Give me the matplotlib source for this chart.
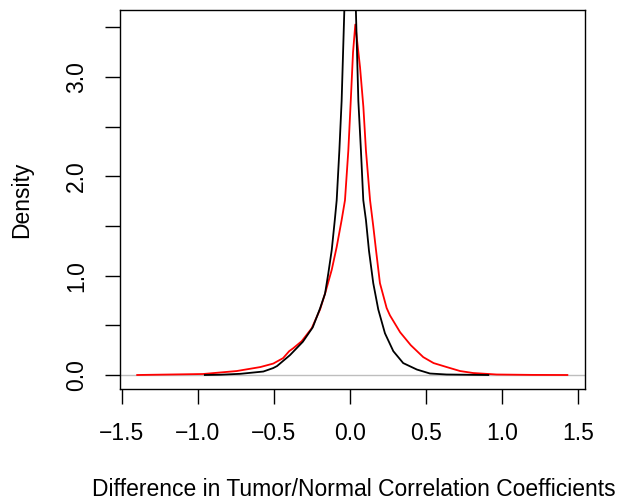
import matplotlib
matplotlib.use("Agg")
import matplotlib.pyplot as plt
import numpy as np

plt.rcParams['font.family'] = ['Liberation Sans', 'DejaVu Sans']

# density estimates
black_x = [-0.955, -0.85, -0.72, -0.57, -0.505, -0.48, -0.395, -0.31, -0.245, -0.197,
           -0.164, -0.143, -0.12, -0.10, -0.0875, -0.07, -0.055, -0.0375, 0.0,
           0.039, 0.055, 0.072, 0.0875, 0.105, 0.125, 0.153, 0.186, 0.23, 0.285,
           0.35, 0.44, 0.526, 0.636, 0.91]
black_y = [0.0, 0.003, 0.012, 0.035, 0.07, 0.09, 0.20, 0.335, 0.48, 0.67,
           0.82, 1.02, 1.26, 1.56, 1.76, 2.26, 2.76, 3.66, 5.6,
           3.66, 2.76, 2.26, 1.76, 1.56, 1.25, 0.925, 0.66, 0.42, 0.24,
           0.12, 0.055, 0.015, 0.005, 0.0]

red_x = [-1.40, -0.967, -0.745, -0.59, -0.505, -0.44, -0.40, -0.373, -0.318, -0.252,
         -0.197, -0.164, -0.12, -0.0875, -0.055, -0.033, -0.011, 0.005, 0.02, 0.035,
         0.066, 0.088, 0.105, 0.132, 0.153, 0.171, 0.197, 0.241, 0.263, 0.33,
         0.40, 0.482, 0.55, 0.636, 0.724, 0.81, 0.965, 1.20, 1.43]
red_y = [0.0, 0.01, 0.04, 0.08, 0.115, 0.17, 0.24, 0.27, 0.34, 0.47,
         0.66, 0.82, 1.06, 1.29, 1.56, 1.76, 2.26, 2.76, 3.25, 3.53,
         3.1, 2.7, 2.26, 1.76, 1.5, 1.26, 0.925, 0.675, 0.60, 0.43,
         0.30, 0.18, 0.12, 0.08, 0.04, 0.02, 0.005, 0.001, 0.0]

x_ticks = [-1.5, -1.0, -0.5, 0.0, 0.5, 1.0, 1.5]
x_labels = ['\u22121.5', '\u22121.0', '\u22120.5', '0.0', '0.5', '1.0', '1.5']
y_ticks = [0.0, 0.5, 1.0, 1.5, 2.0, 2.5, 3.0, 3.5]
y_labels = ['0.0', '', '1.0', '', '2.0', '', '3.0', '']

fs = 16.5

fig = plt.figure(figsize=(6.28, 5.03), dpi=100)
ax = fig.add_axes([120/628, 1 - 389/503, 465/628, 379/503])

ax.axhline(0, color='#bebebe', lw=1.0, zorder=1)
ax.plot(black_x, black_y, color='black', lw=1.3, zorder=3)
ax.plot(red_x, red_y, color='red', lw=1.3, zorder=2)

ax.set_xlim(-1.513, 1.546)
ax.set_ylim(-0.141, 3.676)

ax.set_xticks(x_ticks)
ax.set_xticklabels(x_labels)
ax.set_yticks(y_ticks)
ax.set_yticklabels(y_labels, rotation=90, va='center')
ax.tick_params(direction='out', length=10.5, width=1.0, labelsize=fs)
ax.tick_params(axis='x', pad=13.5)
ax.tick_params(axis='y', pad=12.5)

for s in ax.spines.values():
    s.set_linewidth(1.0)

fig.text(354/628, 1 - 490/503, 'Difference in Tumor/Normal Correlation Coefficients',
         ha='center', va='center', fontsize=fs)
fig.text(22/628, 1 - 200/503, 'Density', ha='center', va='center', rotation=90, fontsize=fs)

fig.savefig('out.png', dpi=100)
